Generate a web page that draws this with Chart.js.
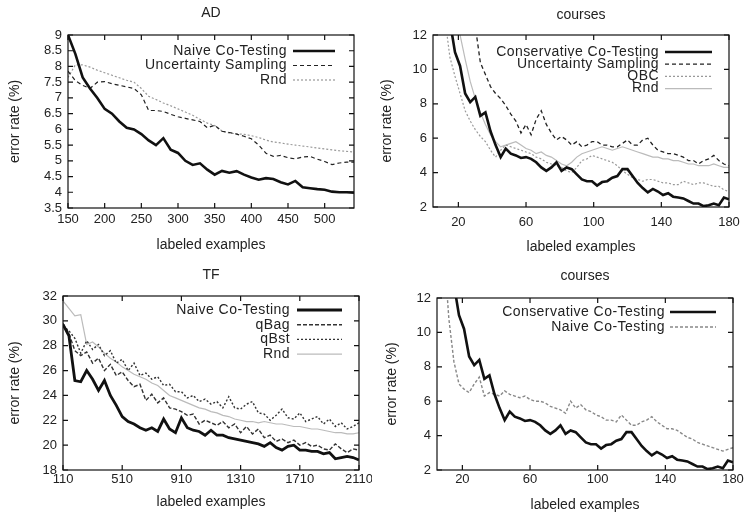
<!DOCTYPE html>
<html>
<head>
<meta charset="utf-8">
<script src="https://cdn.jsdelivr.net/npm/chart.js@4.4.0/dist/chart.umd.min.js"></script>
<style>
  body { margin: 0; background: #fff; }
  #page { position: relative; width: 744px; height: 515px; }
  .panel { position: absolute; }
</style>
</head>
<body>
<div id="page">
  <div class="panel" style="left:0;top:0"><canvas id="adChart" width="372" height="257"></canvas></div>
  <div class="panel" style="left:372px;top:0"><canvas id="coursesChart" width="372" height="257"></canvas></div>
  <div class="panel" style="left:0;top:257px"><canvas id="tfChart" width="372" height="258"></canvas></div>
  <div class="panel" style="left:372px;top:257px"><canvas id="coursesCoChart" width="372" height="258"></canvas></div>
</div>
<script>
// AD
const adX = [150, 160, 170, 180, 190, 200, 210, 220, 230, 240, 250, 260, 270, 280, 290, 300, 310, 320, 330, 340,
  350, 360, 370, 380, 390, 400, 410, 420, 430, 440, 450, 460, 470, 480, 490, 500, 510, 520, 530, 540];
const adNaive = [9.0, 8.4, 7.65, 7.3, 7.0, 6.65, 6.5, 6.25, 6.05, 6.0, 5.85, 5.65, 5.5, 5.72, 5.35, 5.25, 5.0, 4.87, 4.92, 4.72,
  4.56, 4.68, 4.62, 4.67, 4.56, 4.47, 4.4, 4.45, 4.42, 4.32, 4.25, 4.36, 4.16, 4.13, 4.1, 4.08, 4.02, 4.0, 4.0, 3.99];
const adUncertainty = [7.85, 7.55, 7.4, 7.3, 7.5, 7.52, 7.45, 7.4, 7.35, 7.3, 7.1, 6.6, 6.6, 6.57, 6.48, 6.4, 6.35, 6.3, 6.25, 6.05,
  6.13, 5.94, 5.9, 5.85, 5.78, 5.7, 5.5, 5.24, 5.14, 5.17, 5.1, 5.06, 5.12, 5.14, 5.05, 4.98, 4.88, 4.93, 4.96, 4.96];
const adRnd = [7.65, 8.05, 8.05, 7.98, 7.88, 7.8, 7.72, 7.64, 7.56, 7.5, 7.3, 7.05, 6.95, 6.84, 6.75, 6.65, 6.55, 6.45, 6.32, 6.2,
  6.12, 5.95, 5.88, 5.86, 5.84, 5.8, 5.74, 5.66, 5.6, 5.57, 5.53, 5.5, 5.47, 5.44, 5.41, 5.38, 5.35, 5.32, 5.3, 5.28];
const adXTicks = [150, 200, 250, 300, 350, 400, 450, 500];
const adYTicks = [3.5, 4, 4.5, 5, 5.5, 6, 6.5, 7, 7.5, 8, 8.5, 9];

// courses
const coursesX = [6, 9, 12, 15, 18, 21, 24, 27, 30, 33, 36, 39, 42, 45, 48, 51, 54, 57, 60, 63,
  66, 69, 72, 75, 78, 81, 84, 87, 90, 93, 96, 99, 102, 105, 108, 111, 114, 117, 120, 123,
  126, 129, 132, 135, 138, 141, 144, 147, 150, 153, 156, 159, 162, 165, 168, 171, 174, 177, 180];
const coursesConservative = [20, 18, 15, 12.8, 11.0, 10.2, 8.6, 8.1, 8.4, 7.3, 7.5, 6.4, 5.6, 4.9, 5.4, 5.1, 5.0, 4.85, 4.9, 4.8,
  4.6, 4.3, 4.1, 4.3, 4.6, 4.1, 4.3, 4.2, 3.9, 3.6, 3.5, 3.5, 3.25, 3.45, 3.5, 3.7, 3.8, 4.2, 4.2, 3.8,
  3.4, 3.1, 2.85, 3.05, 2.9, 2.7, 2.8, 2.6, 2.55, 2.5, 2.35, 2.2, 2.2, 2.05, 2.1, 2.2, 2.1, 2.55, 2.45];
const coursesUncertainty = [20, 20, 20, 19, 18, 17, 15.5, 14, 12.5, 10.4, 9.7, 9.0, 8.6, 8.3, 7.9, 7.4, 7.0, 6.3, 6.8, 6.2,
  7.1, 7.6, 6.8, 6.3, 5.9, 6.1, 5.9, 5.6, 5.8, 5.5, 5.6, 5.8, 5.8, 5.6, 5.6, 5.5, 5.5, 5.7, 5.9, 5.6,
  5.6, 5.9, 6.0, 5.6, 5.3, 5.2, 5.1, 5.1, 5.0, 4.9, 4.7, 4.7, 4.5, 4.7, 4.8, 5.0, 4.7, 4.5, 4.4];
const coursesQBC = [20, 16, 13, 10.7, 9.6, 8.6, 7.6, 7.0, 6.5, 6.1, 5.8, 5.3, 4.9, 5.3, 5.6, 5.5, 5.4, 5.3, 5.2, 5.1,
  4.9, 4.8, 4.6, 4.5, 4.4, 4.3, 4.1, 4.0, 4.3, 4.7, 4.8, 5.0, 4.9, 4.8, 4.7, 4.6, 4.4, 4.1, 3.9, 3.7,
  3.6, 3.5, 3.6, 3.6, 3.5, 3.4, 3.4, 3.3, 3.3, 3.5, 3.4, 3.3, 3.4, 3.4, 3.3, 3.2, 3.2, 3.0, 2.9];
const coursesRnd = [20, 20, 18, 16, 14, 12.0, 10.6, 9.3, 8.3, 7.5, 6.8, 6.2, 5.8, 5.5, 5.6, 5.7, 5.8, 5.6, 5.4, 5.3,
  5.1, 5.2, 5.0, 4.9, 4.7, 4.5, 4.4, 4.6, 4.9, 5.1, 5.2, 5.3, 5.4, 5.5, 5.4, 5.3, 5.4, 5.5, 5.4, 5.3,
  5.2, 5.1, 5.0, 4.9, 4.9, 4.8, 4.8, 4.7, 4.7, 4.6, 4.5, 4.5, 4.4, 4.4, 4.4, 4.5, 4.4, 4.3, 4.3];
const coursesNaive = [20, 15, 10.8, 8.3, 7.0, 6.7, 6.5, 7.0, 7.4, 6.3, 6.5, 6.4, 6.3, 6.6, 6.4, 6.3, 6.2, 6.3, 6.1, 6.0,
  6.0, 5.9, 5.7, 5.6, 5.5, 5.3, 6.0, 5.6, 5.8, 5.5, 5.4, 5.2, 5.1, 4.9, 4.9, 4.8, 5.2, 4.9, 4.6, 4.6,
  4.8, 4.9, 5.1, 4.8, 4.6, 4.4, 4.4, 4.3, 4.1, 3.9, 3.8, 3.6, 3.5, 3.4, 3.3, 3.2, 3.1, 3.2, 3.3];
const coursesXTicks = [20, 60, 100, 140, 180];
const coursesYTicks = [2, 4, 6, 8, 10, 12];

// TF
const tfX = [110, 150, 190, 230, 270, 310, 350, 390, 430, 470, 510, 550, 590, 630, 670, 710, 750, 790, 830, 870,
  910, 950, 990, 1030, 1070, 1110, 1150, 1190, 1230, 1270, 1310, 1350, 1390, 1430, 1470, 1510, 1550, 1590, 1630, 1670,
  1710, 1750, 1790, 1830, 1870, 1910, 1950, 1990, 2030, 2070, 2110];
const tfNaive = [29.7, 28.8, 25.2, 25.1, 26.0, 25.3, 24.4, 25.2, 24.0, 23.2, 22.3, 21.9, 21.7, 21.4, 21.2, 21.4, 21.1, 22.1, 21.3, 21.0,
  22.2, 21.4, 21.2, 21.1, 20.8, 21.2, 20.8, 20.8, 20.6, 20.5, 20.4, 20.3, 20.2, 20.1, 19.9, 20.2, 19.8, 19.6, 19.9, 20.0,
  19.6, 19.6, 19.5, 19.5, 19.3, 19.4, 18.9, 19.0, 19.1, 19.0, 18.8];
const tfQBag = [29.8, 29.0, 27.6, 27.2, 27.5, 26.6, 27.0, 26.0, 26.5, 25.6, 25.9, 25.2, 24.7, 24.9, 23.6, 24.1, 23.4, 23.8, 23.0, 22.9,
  22.7, 22.4, 22.5, 21.7, 22.0, 21.8, 21.6, 21.9, 21.4, 21.7, 21.0, 21.5, 20.9, 21.3, 20.6, 20.8, 20.3, 20.5, 20.2, 20.4,
  20.0, 20.2, 19.9, 20.0, 19.7, 19.6, 20.1, 19.7, 19.4, 19.7, 19.6];
const tfQBst = [29.6, 29.2, 28.6, 27.4, 28.4, 27.7, 28.1, 27.2, 27.6, 26.6, 26.9, 26.0, 26.6, 25.6, 25.8, 25.3, 25.5, 24.8, 24.9, 24.3,
  24.3, 23.8, 24.0, 23.5, 23.7, 23.3, 23.5, 23.0, 23.9, 23.0, 22.9, 23.3, 23.5, 22.6, 22.5, 22.0, 22.4, 22.9, 22.2, 22.1,
  22.6, 21.9, 22.1, 22.3, 21.7, 22.1, 21.5, 21.8, 21.3, 21.5, 21.8];
const tfRnd = [31.6, 31.0, 30.4, 30.5, 28.1, 28.3, 27.9, 27.4, 27.0, 26.7, 26.3, 26.0, 25.7, 25.5, 25.3, 25.0, 24.8, 24.4, 24.0, 23.8,
  23.6, 23.4, 23.2, 23.0, 22.9, 22.7, 22.6, 22.4, 22.3, 22.1, 22.0, 21.9, 21.9, 21.8, 21.9, 21.8, 21.7, 21.7, 21.6, 21.5,
  21.5, 21.4, 21.3, 21.3, 21.2, 21.1, 21.0, 21.0, 20.9, 20.9, 21.0];
const tfXTicks = [110, 510, 910, 1310, 1710, 2110];
const tfYTicks = [18, 20, 22, 24, 26, 28, 30, 32];

const FONT = "'Liberation Sans', Arial, sans-serif";
Chart.defaults.font.family = FONT;
Chart.defaults.color = "#222";

function pairs(xs, ys) {
  return xs.map((x, i) => ({ x: x, y: ys[i] }));
}

function series(label, xs, ys, color, width, dash) {
  return {
    label: label,
    data: pairs(xs, ys),
    borderColor: color,
    borderWidth: width,
    borderDash: dash,
    pointRadius: 0,
    fill: false,
    tension: 0,
  };
}

// gnuplot-like box, inward ticks, title and legend
const gnuplotFrame = {
  id: "gnuplotFrame",
  afterDatasetsDraw(chart, args, opts) {
    const { ctx, chartArea: a, scales } = chart;
    ctx.save();
    ctx.strokeStyle = "#111";
    ctx.lineWidth = 1.2;
    ctx.setLineDash([]);
    ctx.strokeRect(a.left, a.top, a.right - a.left, a.bottom - a.top);
    ctx.beginPath();
    scales.x.ticks.forEach((t) => {
      const px = scales.x.getPixelForValue(t.value);
      ctx.moveTo(px, a.bottom);
      ctx.lineTo(px, a.bottom - 5);
      ctx.moveTo(px, a.top);
      ctx.lineTo(px, a.top + 5);
    });
    scales.y.ticks.forEach((t) => {
      const py = scales.y.getPixelForValue(t.value);
      ctx.moveTo(a.left, py);
      ctx.lineTo(a.left + 5, py);
      ctx.moveTo(a.right, py);
      ctx.lineTo(a.right - 5, py);
    });
    ctx.stroke();

    ctx.fillStyle = "#222";
    ctx.font = "14px " + FONT;
    ctx.textBaseline = "middle";
    ctx.textAlign = "center";
    ctx.fillText(opts.title, (a.left + a.right) / 2, opts.titleY);

    ctx.textAlign = "right";
    ctx.letterSpacing = "0.45px";
    chart.data.datasets.forEach((ds, i) => {
      const y = a.top + opts.legendTop + i * opts.legendStep;
      ctx.fillText(ds.label, a.right - opts.textGap, y);
      ctx.save();
      ctx.strokeStyle = ds.borderColor;
      ctx.lineWidth = ds.borderWidth;
      ctx.setLineDash(ds.borderDash || []);
      ctx.beginPath();
      ctx.moveTo(a.right - opts.sampleFrom, y);
      ctx.lineTo(a.right - opts.sampleTo, y);
      ctx.stroke();
      ctx.restore();
    });
    ctx.restore();
  },
};

function buildPanel(id, area, xRange, xTicks, yRange, yTicks, datasets, frame) {
  const canvas = document.getElementById(id);
  new Chart(canvas.getContext("2d"), {
    type: "line",
    data: { datasets: datasets },
    options: {
      responsive: false,
      animation: false,
      layout: { padding: { top: area.top, right: canvas.width - area.right, bottom: 0, left: 0 } },
      plugins: {
        legend: { display: false },
        tooltip: { enabled: false },
        gnuplotFrame: frame,
      },
      scales: {
        x: {
          type: "linear",
          min: xRange[0],
          max: xRange[1],
          grid: { display: false, drawTicks: false },
          border: { display: false },
          ticks: { padding: frame.xTickPad, font: { size: 13 }, autoSkip: false, maxRotation: 0, callback: (v) => String(v) },
          afterBuildTicks: (s) => { s.ticks = xTicks.map((v) => ({ value: v })); },
          afterFit: (s) => { s.height = canvas.height - area.bottom; s.paddingLeft = 0; s.paddingRight = 0; },
          title: { display: true, text: "labeled examples", font: { size: 14 }, padding: { top: 0, bottom: frame.xTitlePad } },
        },
        y: {
          type: "linear",
          min: yRange[0],
          max: yRange[1],
          grid: { display: false, drawTicks: false },
          border: { display: false },
          ticks: { padding: 6, font: { size: 13 }, autoSkip: false, callback: (v) => String(v) },
          afterBuildTicks: (s) => { s.ticks = yTicks.map((v) => ({ value: v })); },
          afterFit: (s) => { s.width = area.left; s.paddingTop = 0; s.paddingBottom = 0; },
          title: { display: true, text: "error rate (%)", font: { size: 14 }, padding: { top: frame.yTitlePad, bottom: 0 } },
        },
      },
    },
    plugins: [gnuplotFrame],
  });
}

// AD
buildPanel("adChart", { left: 68, right: 354, top: 35, bottom: 208 }, [150, 540], adXTicks, [3.5, 9], adYTicks, [
  series("Naive Co-Testing", adX, adNaive, "#111", 2.6, []),
  series("Uncertainty Sampling", adX, adUncertainty, "#222", 1.2, [4, 3]),
  series("Rnd", adX, adRnd, "#999", 1.2, [2, 2]),
], { title: "AD", titleY: 13, legendTop: 16, legendStep: 14.5, textGap: 67, sampleFrom: 61, sampleTo: 19,
     xTickPad: 4, xTitlePad: 3, yTitlePad: 7 });

// courses
buildPanel("coursesChart", { left: 61, right: 357, top: 35, bottom: 207 }, [5, 180], coursesXTicks, [2, 12], coursesYTicks, [
  series("Conservative Co-Testing", coursesX, coursesConservative, "#111", 2.6, []),
  series("Uncertainty Sampling", coursesX, coursesUncertainty, "#222", 1.3, [4, 3]),
  series("QBC", coursesX, coursesQBC, "#999", 1.2, [2, 2]),
  series("Rnd", coursesX, coursesRnd, "#bbb", 1.2, []),
], { title: "courses", titleY: 15, legendTop: 17, legendStep: 12.2, textGap: 70, sampleFrom: 64, sampleTo: 17,
     xTickPad: 8, xTitlePad: 1, yTitlePad: 7 });

// TF
buildPanel("tfChart", { left: 63, right: 359, top: 39, bottom: 213 }, [110, 2110], tfXTicks, [18, 32], tfYTicks, [
  series("Naive Co-Testing", tfX, tfNaive, "#111", 2.8, []),
  series("qBag", tfX, tfQBag, "#333", 1.4, [4, 2]),
  series("qBst", tfX, tfQBst, "#333", 1.4, [2, 2]),
  series("Rnd", tfX, tfRnd, "#bbb", 1.2, []),
], { title: "TF", titleY: 18, legendTop: 14, legendStep: 14.7, textGap: 69, sampleFrom: 62, sampleTo: 17,
     xTickPad: 2, xTitlePad: 4, yTitlePad: 7 });

// courses, co-testing variants
buildPanel("coursesCoChart", { left: 65, right: 361, top: 41, bottom: 213 }, [5, 180], coursesXTicks, [2, 12], coursesYTicks, [
  series("Conservative Co-Testing", coursesX, coursesConservative, "#111", 2.6, []),
  series("Naive Co-Testing", coursesX, coursesNaive, "#888", 1.4, [3, 2]),
], { title: "courses", titleY: 19, legendTop: 14, legendStep: 15, textGap: 68, sampleFrom: 63, sampleTo: 17,
     xTickPad: 2, xTitlePad: 1, yTitlePad: 12 });
</script>
</body>
</html>
